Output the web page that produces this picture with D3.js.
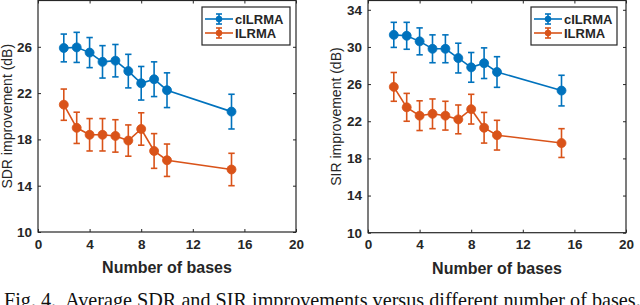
<!DOCTYPE html>
<html><head><meta charset="utf-8">
<script src="https://cdn.jsdelivr.net/npm/d3@7"></script>
<style>body{margin:0;background:#fff}svg{display:block}</style>
</head><body>
<svg id="c" width="640" height="305"></svg>
<script>
const bases = [2,3,4,5,6,7,8,9,10,15];
const seriesNames = ["cILRMA","ILRMA"];
const sdrC = [25.9,25.95,25.5,24.7,24.8,23.9,22.85,23.2,22.25,20.4];
const sdrCErr = [1.2,1.3,1.3,1.4,1.4,1.45,1.45,1.5,1.5,1.5];
const sdrI = [21.0,19.0,18.4,18.4,18.3,17.9,18.9,17.0,16.2,15.4];
const sdrIErr = [1.35,1.35,1.4,1.4,1.4,1.35,1.4,1.5,1.4,1.4];
const sirC = [31.3,31.2,30.6,29.8,29.8,28.8,27.8,28.25,27.3,25.3];
const sirCErr = [1.35,1.45,1.45,1.5,1.5,1.6,1.6,1.65,1.65,1.65];
const sirI = [25.7,23.5,22.6,22.8,22.6,22.2,23.3,21.3,20.5,19.65];
const sirIErr = [1.55,1.5,1.6,1.6,1.55,1.55,1.6,1.65,1.6,1.55];
const xTicks = [0,4,8,12,16,20];
const sdrTicks = [10,14,18,22,26];
const sirTicks = [10,14,18,22,26,30,34];
const colors = ["#0072BD","#D95319"];

const svg = d3.select("#c");
const axisColor = "#262626";
const tickFont = "'Liberation Sans', Arial, sans-serif";

function panel(cfg){
  const x = d3.scaleLinear().domain([0,20]).range([cfg.x0,cfg.x1]);
  const y = d3.scaleLinear().domain(cfg.yDomain).range([cfg.y1,cfg.y0]);
  const g = svg.append("g");
  const data = [
    {name:seriesNames[0], v:cfg.c, e:cfg.ce, color:colors[0]},
    {name:seriesNames[1], v:cfg.i, e:cfg.ie, color:colors[1]}
  ];
  data.forEach(s=>{
    const pts = bases.map((b,k)=>({b, v:s.v[k], e:s.e[k]}));
    const sg = g.append("g");
    sg.append("path").datum(pts)
      .attr("d", d3.line().x(d=>x(d.b)).y(d=>y(d.v)))
      .attr("fill","none").attr("stroke",s.color).attr("stroke-width",1.6);
    const eb = sg.selectAll(".eb").data(pts).enter().append("g");
    eb.append("line").attr("x1",d=>x(d.b)).attr("x2",d=>x(d.b))
      .attr("y1",d=>y(d.v-d.e)).attr("y2",d=>y(d.v+d.e))
      .attr("stroke",s.color).attr("stroke-width",1.6);
    [-1,1].forEach(sg2=>{
      eb.append("line").attr("x1",d=>x(d.b)-3.2).attr("x2",d=>x(d.b)+3.2)
        .attr("y1",d=>y(d.v+sg2*d.e)).attr("y2",d=>y(d.v+sg2*d.e))
        .attr("stroke",s.color).attr("stroke-width",1.6);
    });
    sg.selectAll("circle").data(pts).enter().append("circle")
      .attr("cx",d=>x(d.b)).attr("cy",d=>y(d.v)).attr("r",4.5)
      .attr("fill",s.color).attr("stroke",s.color).attr("stroke-width",0.8);
  });
  g.append("rect").attr("x",cfg.x0).attr("y",cfg.y0)
    .attr("width",cfg.x1-cfg.x0).attr("height",cfg.y1-cfg.y0)
    .attr("fill","none").attr("stroke",axisColor).attr("stroke-width",1.2);
  const xb = g.append("g").attr("transform",`translate(0,${cfg.y1})`)
    .call(d3.axisBottom(x).tickValues(xTicks).tickSizeInner(-3).tickSizeOuter(0).tickPadding(7));
  const xt = g.append("g").attr("transform",`translate(0,${cfg.y0})`)
    .call(d3.axisTop(x).tickValues(xTicks).tickSizeInner(-3).tickSizeOuter(0).tickFormat(""));
  const yl = g.append("g").attr("transform",`translate(${cfg.x0},0)`)
    .call(d3.axisLeft(y).tickValues(cfg.ticks).tickSizeInner(-3).tickSizeOuter(0).tickPadding(6));
  const yr = g.append("g").attr("transform",`translate(${cfg.x1},0)`)
    .call(d3.axisRight(y).tickValues(cfg.ticks).tickSizeInner(-3).tickSizeOuter(0).tickFormat(""));
  [xb,xt,yl,yr].forEach(a=>{
    a.select(".domain").remove();
    a.selectAll("line").attr("stroke",axisColor).attr("stroke-width",1);
    a.selectAll("text").attr("fill",axisColor).style("font-family",tickFont)
      .style("font-size","13.5px").style("font-weight","bold");
  });
  xb.selectAll("text").attr("dy","0.71em");
  g.append("text").attr("x",(cfg.x0+cfg.x1)/2).attr("y",cfg.y1+41)
    .attr("text-anchor","middle").attr("fill",axisColor)
    .style("font-family",tickFont).style("font-size","16px").style("font-weight","bold")
    .text("Number of bases");
  g.append("text").attr("transform",`translate(${cfg.ylx},${(cfg.y0+cfg.y1)/2}) rotate(-90)`)
    .attr("text-anchor","middle").attr("fill",axisColor)
    .style("font-family",tickFont).style("font-size","14px")
    .text(cfg.ylabel);
  const L = cfg.legend;
  const lg = g.append("g");
  lg.append("rect").attr("x",L.x).attr("y",L.y).attr("width",L.w).attr("height",L.h)
    .attr("fill","#fff").attr("stroke",axisColor).attr("stroke-width",1.2);
  data.forEach((s,k)=>{
    const ly = L.y + 12 + k*14;
    const lx0 = L.x+3, lx1 = L.x+31, cx=(lx0+lx1)/2;
    lg.append("line").attr("x1",lx0).attr("x2",lx1).attr("y1",ly).attr("y2",ly)
      .attr("stroke",s.color).attr("stroke-width",1.6);
    lg.append("line").attr("x1",cx).attr("x2",cx).attr("y1",ly-5).attr("y2",ly+5)
      .attr("stroke",s.color).attr("stroke-width",1.6);
    [-5,5].forEach(o=>lg.append("line").attr("x1",cx-3).attr("x2",cx+3).attr("y1",ly+o).attr("y2",ly+o)
      .attr("stroke",s.color).attr("stroke-width",1.6));
    lg.append("circle").attr("cx",cx).attr("cy",ly).attr("r",3.2).attr("fill",s.color);
    lg.append("text").attr("x",lx1+2).attr("y",ly).attr("dy","0.36em")
      .attr("fill",axisColor).style("font-family",tickFont).style("font-size","13px").style("font-weight","bold")
      .text(s.name);
  });
}

panel({x0:38,x1:296,y0:0.5,y1:232,yDomain:[10,30],ticks:sdrTicks,
  c:sdrC,ce:sdrCErr,i:sdrI,ie:sdrIErr,ylabel:"SDR improvement (dB)",ylx:12,
  legend:{x:202,y:7,w:88,h:38}});
panel({x0:368,x1:626,y0:0.5,y1:232.7,yDomain:[10,35],ticks:sirTicks,
  c:sirC,ce:sirCErr,i:sirI,ie:sirIErr,ylabel:"SIR improvement (dB)",ylx:341,
  legend:{x:531,y:7,w:86,h:38}});

svg.append("text").attr("x",4).attr("y",307)
  .style("font-family","'Liberation Serif', 'Times New Roman', serif").style("font-size","20.2px")
  .attr("fill","#111")
  .attr("xml:space","preserve")
  .text("Fig. 4.  Average SDR and SIR improvements versus different number of bases.");
</script>
</body></html>
